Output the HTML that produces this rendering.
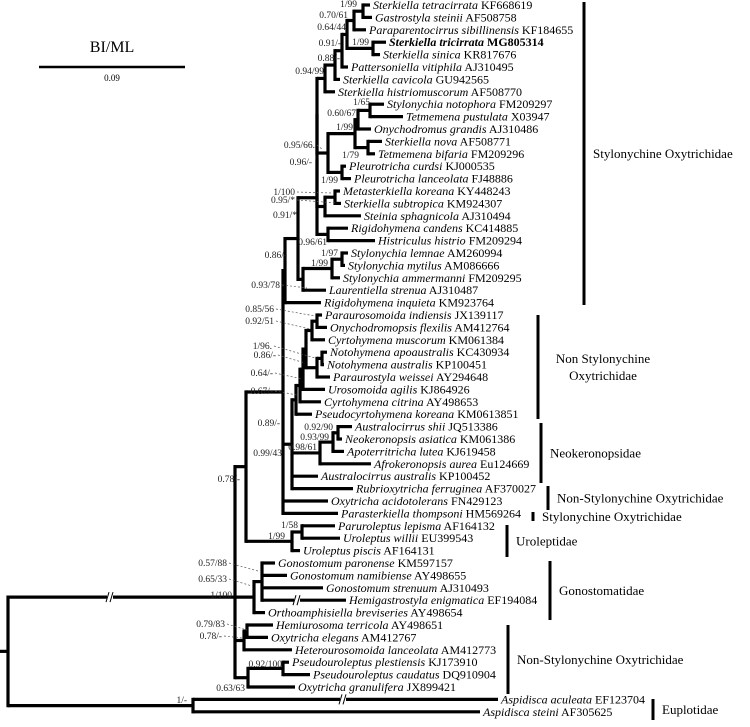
<!DOCTYPE html>
<html><head><meta charset="utf-8"><style>
html,body{margin:0;padding:0;background:#fff;}
svg{display:block;font-family:"Liberation Serif",serif;}
</style></head><body>
<svg id="tree" width="750" height="727" viewBox="0 0 750 727" xmlns="http://www.w3.org/2000/svg">
<g id="branches"></g>
<g id="leaves"></g>
<g id="supports"></g>
<g id="groups"></g>
<g>
<text x="112" y="52" font-size="16" text-anchor="middle">BI/ML</text>
<line x1="39" y1="67" x2="185" y2="67" stroke="#000" stroke-width="2.5"/>
<text x="112" y="81" font-size="9" text-anchor="middle">0.09</text>
</g>
</svg>
<script>
const leafNames = ["Sterkiella tetracirrata","Gastrostyla steinii","Paraparentocirrus sibillinensis","Sterkiella tricirrata","Sterkiella sinica","Pattersoniella vitiphila","Sterkiella cavicola","Sterkiella histriomuscorum","Stylonychia notophora","Tetmemena pustulata","Onychodromus grandis","Sterkiella nova","Tetmemena bifaria","Pleurotricha curdsi","Pleurotricha lanceolata","Metasterkiella koreana","Sterkiella subtropica","Steinia sphagnicola","Rigidohymena candens","Histriculus histrio","Stylonychia lemnae","Stylonychia mytilus","Stylonychia ammermanni","Laurentiella strenua","Rigidohymena inquieta","Paraurosomoida indiensis","Onychodromopsis flexilis","Cyrtohymena muscorum","Notohymena apoaustralis","Notohymena australis","Paraurostyla weissei","Urosomoida agilis","Cyrtohymena citrina","Pseudocyrtohymena koreana","Australocirrus shii","Neokeronopsis asiatica","Apoterritricha lutea","Afrokeronopsis aurea","Australocirrus australis","Rubrioxytricha ferruginea","Oxytricha acidotolerans","Parasterkiella thompsoni","Paruroleptus lepisma","Uroleptus willii","Uroleptus piscis","Gonostomum paronense","Gonostomum namibiense","Gonostomum strenuum","Hemigastrostyla enigmatica","Orthoamphisiella breviseries","Hemiurosoma terricola","Oxytricha elegans","Heterourosomoida lanceolata","Pseudouroleptus plestiensis","Pseudouroleptus caudatus","Oxytricha granulifera","Aspidisca aculeata","Aspidisca steini"];
const leafAcc = ["KF668619","AF508758","KF184655","MG805314","KR817676","AJ310495","GU942565","AF508770","FM209297","X03947","AJ310486","AF508771","FM209296","KJ000535","FJ48886","KY448243","KM924307","AJ310494","KC414885","FM209294","AM260994","AM086666","FM209295","AJ310487","KM923764","JX139117","AM412764","KM061384","KC430934","KP100451","AY294648","KJ864926","AY498653","KM0613851","JQ513386","KM061386","KJ619458","Eu124669","KP100452","AF370027","FN429123","HM569264","AF164132","EU399543","AF164131","KM597157","AY498655","AJ310493","EF194084","AY498654","AY498651","AM412767","AM412773","KJ173910","DQ910904","JX899421","EF123704","AF305625"];
const leafTipX = [370,372,366,386,380,348,340,335,384,403,371,382,375,346,351,340,341,361,348,375,348,345,340,326,321,322,327,325,327,324,330,325,321,312,352,342,344,371,318,353,328,338,335,340,300,275,287,323,346,265,273,268,292,289,310,295,498,480];
const nodeIds = ["A","B","D","C","E","F","G","H","I","J","K","PL","L","M","N","O","P","MO","MOP","LM","LA","LL","S","S86","X1","X2","Y1","Y2","Z1","Z2","Z3","Z4","K1","K2","K3","R1","R2","U1","U2","T","G1","G2","H1","H2","P1","P2","IN","ASP","ROOT"];
const nodeX = [363,354,373,347,342,335,325,370,358,368,355,342,328,317,335,325,328,317,317,342,332,303,298,285,317,312,322,317,306,303,300,296,338,333,320,292,283,302,292,246,262,254,247,244,283,248,235,193,8];
const nodeKids = [[0,1],["A",2],[3,4],["B","D"],["C",5],["E",6],["F",7],[8,9],["H",10],[11,12],["I","J"],[13,14],["K","PL"],["G","L"],[15,16],["N",17],[18,19],["M","O"],["MO","P"],[20,21],["LM",22],["LA",23],["MOP","LL"],["S",24],[25,26],["X1",27],[28,29],["Y1",30],["X2","Y2"],["Z1",31],["Z2",32],["Z3",33],[34,35],["K1",36],["K2",37],["Z4","K3",38,39],["S86","R1",40,41],[42,43],["U1",44],["R2","U2"],[45,46,47,48],["G1",49],[50,51],["H1",52],[53,54],["P1",55],["T","G2","H2","P2"],[56,57],["IN","ASP"]];
// node attaches at this child's y (-1 = midpoint of first/last child)
const nodeAnchor = {"IN":1};
const supportText = ["1/99","0.70/61","0.64/44","0.91/-","1/99","0.88/-","0.94/99","1/65","0.60/67","1/99","0.95/66.","1/79","0.96/-","1/99","1/100","0.95/*","0.91/*","0.96/61","0.86/-","1/97","1/99","0.93/78","0.85/56","0.92/51","1/96.","0.86/-","0.64/-","0.67/-","0.89/-","0.92/90","0.93/99","0.98/61","0.99/43","0.78/-","1/58","1/99","0.57/88","0.65/33","1/100","0.79/83","0.78/-","0.92/100","0.63/63","1/-"];
const supportX = [357,348,346,341,369,340,324,370,356,353,315,359,312,338,295,295,297,327,287,338,328,280,274,274,272,276,273,273,280,333,329,317,282,240,298,285,227,227,232,225,222,282,245,187];
const supportY = [4,15,27,43,42,58,71,102,113,127,145,155,162,180,192,200,215,242,255,253,263,285,309,321,346,355,373,391,423,427,437,447,453,479,525,536,563,579,595,624,636,664,688,700];
const leaderTo = {10:[323,150],14:[332,193],15:[337,203],21:[307,288],22:[315,316],23:[310,329],24:[315,358],25:[305,363],26:[302,379],27:[297,395],36:[258,571],37:[252,586],39:[247,630],40:[242,638]};
const groupNames = [["Stylonychine Oxytrichidae"],["Non Stylonychine","Oxytrichidae"],["Neokeronopsidae"],["Non-Stylonychine Oxytrichidae"],["Stylonychine Oxytrichidae"],["Uroleptidae"],["Gonostomatidae"],["Non-Stylonychine Oxytrichidae"],["Euplotidae"]];
const groupBarX = [584,538,541,548,533,507,550,508,653];
const groupY1 = [2,315,423,486,512,525,561,625,699];
const groupY2 = [305,419,483,510,521,557,620,694,720];
const breaks = [["IN",110],[48,297],[56,343]];

const NS="http://www.w3.org/2000/svg";
const yOf = i => 5 + 12.4*i;
const bg = document.getElementById('branches');
const lg = document.getElementById('leaves');
const sg = document.getElementById('supports');
const gg = document.getElementById('groups');
function mk(tag, attrs, parent){const e=document.createElementNS(NS,tag);for(const k in attrs)e.setAttribute(k,attrs[k]);parent.appendChild(e);return e;}
const pos = {};
function resolve(ref){
  if(typeof ref==='number') return {x:leafTipX[ref], y:yOf(ref)};
  if(pos[ref]) return pos[ref];
  const k = nodeIds.indexOf(ref);
  const kids = nodeKids[k].map(resolve);
  const a = nodeAnchor[ref];
  const y = (a!==undefined) ? kids[a].y : (kids[0].y+kids[kids.length-1].y)/2;
  const p = {x:nodeX[k], y:y, kids:kids};
  pos[ref]=p; return p;
}
nodeIds.forEach(id=>resolve(id));
nodeIds.forEach((id,k)=>{
  const p = pos[id];
  const v = mk('line',{x1:p.x,y1:p.kids[0].y,x2:p.x,y2:p.kids[p.kids.length-1].y,stroke:'#000','stroke-width':3.2,'stroke-linecap':'square'},bg);
  
  
  p.kids.forEach(c=>{
    const h = mk('line',{x1:p.x,y1:c.y,x2:c.x,y2:c.y,stroke:'#000','stroke-width':3.2},bg);
    
    
  });
});
const root = pos["ROOT"];
const rs = mk('line',{x1:0,y1:root.y,x2:root.x,y2:root.y,stroke:'#000','stroke-width':3.2},bg);


breaks.forEach(b=>{
  const y = typeof b[0]==='number' ? yOf(b[0]) : pos[b[0]].y;
  const x = b[1];
  const g = mk('g',{},bg);
  
  
  mk('rect',{x:x-3,y:y-3,width:6,height:6,fill:'#fff'},g);
  mk('line',{x1:x-4,y1:y+5,x2:x-1,y2:y-5,stroke:'#000','stroke-width':1},g);
  mk('line',{x1:x,y1:y+5,x2:x+3,y2:y-5,stroke:'#000','stroke-width':1},g);
});
leafNames.forEach((n,i)=>{
  const t = mk('text',{x:leafTipX[i]+3,y:yOf(i)+4,'font-size':12},lg);
  
  
  if(i===3) t.setAttribute('font-weight','bold');
  const a = mk('tspan',{'font-style':'italic'},t); a.textContent=n;
  const b = mk('tspan',{},t); b.textContent=' '+leafAcc[i];
});
supportText.forEach((s,i)=>{
  const t = mk('text',{x:supportX[i],y:supportY[i]+3,'font-size':9.5,'text-anchor':'end',fill:'#222'},sg);
  
  
  t.textContent=s;
  if(leaderTo[i]){
    const l = mk('line',{x1:supportX[i]+2,y1:supportY[i],x2:leaderTo[i][0],y2:leaderTo[i][1],stroke:'#555','stroke-width':0.7,'stroke-dasharray':'2,2'},sg);
    
    
  }
});
groupNames.forEach((lines,i)=>{
  const x=groupBarX[i], y1=groupY1[i], y2=groupY2[i];
  const l = mk('line',{x1:x,y1:y1,x2:x,y2:y2,stroke:'#000','stroke-width':3},gg);
  
  
  const cy=(y1+y2)/2;
  if(lines.length===1){
    const t = mk('text',{x:x+9,y:cy+4.5,'font-size':13},gg);
    
    
    t.textContent=lines[0];
  } else {
    lines.forEach((s,j)=>{
      const t = mk('text',{x:x+65,y:cy-4+j*17,'font-size':13,'text-anchor':'middle'},gg);
      
      
      t.textContent=s;
    });
  }
});
</script>
</body></html>
